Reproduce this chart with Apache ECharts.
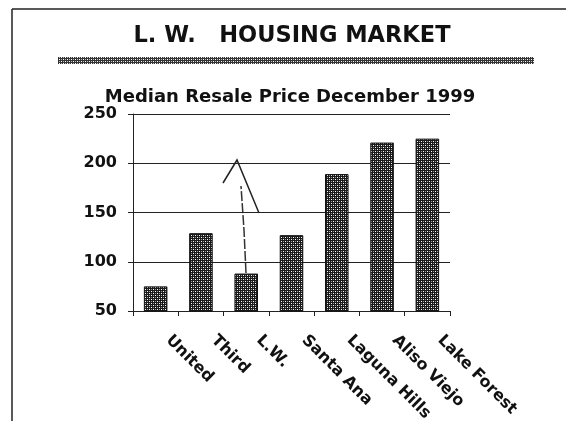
<!DOCTYPE html>
<html>
<head>
<meta charset="utf-8">
<script src="https://cdn.jsdelivr.net/npm/echarts@6/dist/echarts.min.js"></script>
<style>
  html, body { margin: 0; padding: 0; background: #fff; }
  #chart { width: 566px; height: 421px; }
</style>
</head>
<body>
<div id="chart"></div>
<script>
const categories = ['United', 'Third', 'L.W.', 'Santa Ana', 'Laguna Hills', 'Aliso Viejo', 'Lake Forest']
const prices = [75, 129, 88, 127, 189, 221, 225]
const yTicks = { min: 50, max: 250, step: 50 }

// checkered fill like the old printout
function makePattern (dark, mid) {
  const c = document.createElement('canvas')
  c.width = 4
  c.height = 4
  const ctx = c.getContext('2d')
  ctx.fillStyle = dark
  ctx.fillRect(0, 0, 4, 4)
  ctx.fillStyle = '#fff'
  ctx.fillRect(1, 1, 1, 1)
  ctx.fillRect(3, 3, 1, 1)
  ctx.fillStyle = mid
  ctx.fillRect(3, 1, 1, 1)
  ctx.fillRect(1, 3, 1, 1)
  return c
}
const barPattern = makePattern('#1a1a1a', '#999')
const rulePattern = makePattern('#333', '#bbb')
const font = 'DejaVu Sans'

const chart = echarts.init(document.getElementById('chart'))
chart.setOption({
  animation: false,
  title: [{
    text: 'L. W.   HOUSING MARKET',
    left: 287,
    textAlign: 'center',
    top: 20,
    textStyle: { fontFamily: font, fontSize: 22.5, fontWeight: 'bold', color: '#111' }
  }, {
    text: 'Median Resale Price December 1999',
    left: 285,
    textAlign: 'center',
    top: 83,
    textStyle: { fontFamily: font, fontSize: 18, fontWeight: 'bold', color: '#111' }
  }],
  graphic: [
    // page frame
    { type: 'line', shape: { x1: 12, y1: 9, x2: 566, y2: 9 }, style: { stroke: '#222', lineWidth: 1.5 } },
    { type: 'line', shape: { x1: 12, y1: 9, x2: 12, y2: 421 }, style: { stroke: '#222', lineWidth: 1.5 } },
    // hatched rule under the heading
    { type: 'rect', shape: { x: 58, y: 57, width: 476, height: 7 }, style: { fill: { image: rulePattern, repeat: 'repeat' } } },
    // hand-drawn arrow
    { type: 'polyline', shape: { points: [[246, 273], [244, 230], [241, 186]] }, style: { stroke: '#333', lineWidth: 1.5, fill: null, lineDash: [10, 2] } },
    { type: 'polyline', shape: { points: [[223, 183], [237, 160], [259, 213]] }, style: { stroke: '#222', lineWidth: 1.5, fill: null } }
  ],
  grid: { left: 133, right: 116, top: 114, bottom: 110, outerBoundsMode: 'none' },
  xAxis: {
    type: 'category',
    data: categories,
    axisLine: { lineStyle: { color: '#222', width: 1 } },
    axisTick: { show: true, length: 5, lineStyle: { color: '#222' } },
    axisLabel: {
      rotate: -45,
      margin: 14,
      padding: [0, 0, 0, 18],
      fontFamily: font,
      fontSize: 16,
      fontWeight: 'bold',
      color: '#111'
    }
  },
  yAxis: {
    type: 'value',
    min: yTicks.min,
    max: yTicks.max,
    interval: yTicks.step,
    axisLine: { show: true, lineStyle: { color: '#222', width: 1 } },
    axisTick: { show: true, length: 5, lineStyle: { color: '#222' } },
    splitLine: { show: true, lineStyle: { color: '#222', width: 1 } },
    axisLabel: { fontFamily: font, fontSize: 16, fontWeight: 'bold', color: '#111', margin: 16 }
  },
  series: [{
    type: 'bar',
    data: prices,
    barWidth: '52%',
    itemStyle: {
      color: { image: barPattern, repeat: 'repeat' },
      borderColor: '#111',
      borderWidth: 1
    }
  }]
})
</script>
</body>
</html>
